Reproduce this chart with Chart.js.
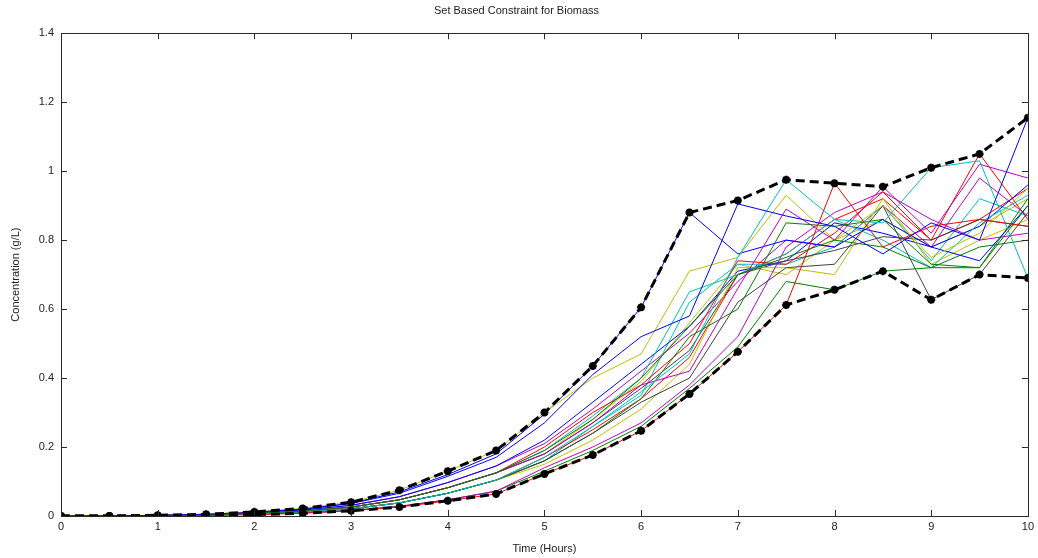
<!DOCTYPE html>
<html>
<head>
<meta charset="utf-8">
<script src="https://cdn.jsdelivr.net/npm/chart.js@4/dist/chart.umd.min.js"></script>
<style>
  html, body { margin:0; padding:0; background:#fff; }
  #wrap { width:1038px; height:558px; }
</style>
</head>
<body>
<div id="wrap"><canvas id="chart" width="1038" height="558"></canvas></div>
<script>
/* ====== データ ====== */
const hours = [0,0.5,1,1.5,2,2.5,3,3.5,4,4.5,5,5.5,6,6.5,7,7.5,8,8.5,9,9.5,10];
const xTicks = [0,1,2,3,4,5,6,7,8,9,10];
const yTicks = [0,0.2,0.4,0.6,0.8,1,1.2,1.4];

// 上限・下限（破線）
const upperBound = [0,0,0.002,0.005,0.012,0.022,0.04,0.075,0.13,0.19,0.30,0.435,0.605,0.88,0.915,0.975,0.965,0.955,1.01,1.05,1.155];
const lowerBound = [0,0,0.001,0.002,0.004,0.008,0.015,0.026,0.044,0.064,0.122,0.177,0.247,0.354,0.476,0.612,0.656,0.71,0.627,0.70,0.69];

// 各ラン
const run01 = [0,0,0.002,0.005,0.011,0.02,0.036,0.066,0.115,0.17,0.27,0.41,0.52,0.58,0.905,0.87,0.84,0.76,0.85,0.80,1.155];
const run02 = [0,0,0.001,0.003,0.008,0.014,0.026,0.047,0.082,0.125,0.19,0.28,0.40,0.55,0.70,0.75,0.80,0.78,0.72,0.72,0.90];
const run03 = [0,0,0.001,0.002,0.004,0.008,0.015,0.026,0.044,0.064,0.122,0.177,0.247,0.354,0.476,0.612,0.965,0.78,0.84,0.86,0.84];
const run04 = [0,0,0.001,0.003,0.006,0.012,0.021,0.038,0.066,0.104,0.17,0.26,0.36,0.47,0.75,0.975,0.86,0.85,1.01,1.03,0.69];
const run05 = [0,0,0.001,0.003,0.008,0.014,0.026,0.047,0.082,0.125,0.18,0.27,0.38,0.42,0.66,0.89,0.80,0.955,0.82,1.02,0.98];
const run06 = [0,0,0.002,0.005,0.012,0.022,0.04,0.075,0.13,0.19,0.30,0.40,0.47,0.71,0.75,0.93,0.80,0.90,0.75,0.82,0.95];
const run07 = [0,0,0.001,0.003,0.006,0.012,0.021,0.038,0.066,0.104,0.16,0.24,0.33,0.40,0.62,0.72,0.73,0.90,0.627,0.70,0.88];
const run08 = [0,0,0.002,0.005,0.011,0.02,0.037,0.07,0.12,0.18,0.295,0.435,0.605,0.88,0.76,0.80,0.78,0.86,0.78,0.74,0.90];
const run09 = [0,0,0.001,0.003,0.006,0.012,0.021,0.038,0.066,0.104,0.16,0.24,0.34,0.52,0.60,0.85,0.84,0.86,0.73,0.72,0.92];
const run10 = [0,0,0.001,0.003,0.008,0.014,0.026,0.047,0.082,0.125,0.20,0.30,0.38,0.50,0.74,0.73,0.82,0.94,0.80,1.05,0.86];
const run11 = [0,0,0.001,0.003,0.008,0.014,0.026,0.047,0.082,0.125,0.19,0.29,0.40,0.65,0.70,0.76,0.86,0.80,0.72,0.85,0.93];
const run12 = [0,0,0.001,0.002,0.005,0.009,0.016,0.028,0.047,0.072,0.14,0.20,0.27,0.38,0.52,0.78,0.88,0.94,0.86,0.80,0.82];
const run13 = [0,0,0.001,0.003,0.006,0.012,0.021,0.038,0.066,0.104,0.15,0.22,0.31,0.44,0.72,0.72,0.70,0.92,0.73,0.80,0.86];
const run14 = [0,0,0.001,0.003,0.008,0.014,0.026,0.047,0.082,0.125,0.18,0.27,0.37,0.48,0.70,0.74,0.77,0.81,0.80,0.86,0.84];
const run15 = [0,0,0.002,0.004,0.009,0.017,0.031,0.056,0.097,0.145,0.22,0.33,0.44,0.55,0.71,0.74,0.85,0.82,0.78,0.84,0.96];
const run16 = [0,0,0.001,0.002,0.005,0.009,0.016,0.028,0.047,0.072,0.13,0.19,0.26,0.37,0.49,0.68,0.656,0.71,0.72,0.78,0.80];
const run17 = [0,0,0.001,0.003,0.006,0.012,0.021,0.038,0.066,0.104,0.17,0.25,0.34,0.46,0.70,0.76,0.86,0.92,0.80,0.86,0.95];
const run18 = [0,0,0.001,0.003,0.006,0.012,0.021,0.038,0.066,0.104,0.16,0.26,0.35,0.62,0.73,0.73,0.78,0.90,0.74,0.92,0.87];
const run19 = [0,0,0.002,0.004,0.009,0.017,0.031,0.056,0.097,0.145,0.21,0.31,0.42,0.53,0.68,0.80,0.78,0.90,0.78,0.98,0.87];
const run20 = [0,0,0.001,0.003,0.008,0.014,0.026,0.047,0.082,0.125,0.18,0.28,0.39,0.56,0.73,0.70,0.80,0.86,0.78,0.84,0.92];
const runs = [run01,run02,run03,run04,run05,run06,run07,run08,run09,run10,
              run11,run12,run13,run14,run15,run16,run17,run18,run19,run20];

// MATLAB 既定の色順
const colorOrder = ['#0000ff','#008000','#ff0000','#00bfbf','#bf00bf','#bfbf00','#404040'];

/* ====== 枠と内向きの目盛り ====== */
const frame = {
  id:'frame',
  afterDatasetsDraw(chart){
    const {ctx, chartArea:a, scales:{x, y}} = chart;
    const len = 6;
    ctx.save();
    ctx.strokeStyle = '#2a2a2a'; ctx.lineWidth = 1;
    ctx.strokeRect(Math.round(a.left)+0.5, Math.round(a.top)+0.5, Math.round(a.right-a.left), Math.round(a.bottom-a.top));
    ctx.beginPath();
    xTicks.forEach(v=>{
      const px = Math.round(x.getPixelForValue(v))+0.5;
      ctx.moveTo(px, a.bottom); ctx.lineTo(px, a.bottom-len);
      ctx.moveTo(px, a.top);    ctx.lineTo(px, a.top+len);
    });
    yTicks.forEach(v=>{
      const py = Math.round(y.getPixelForValue(v))+0.5;
      ctx.moveTo(a.left, py);  ctx.lineTo(a.left+len, py);
      ctx.moveTo(a.right, py); ctx.lineTo(a.right-len, py);
    });
    ctx.stroke();
    ctx.restore();
  }
};

const toPts = arr => hours.map((t,i)=>({x:t, y:arr[i]}));
const font = { family:"'Liberation Sans', Arial, sans-serif", size:11, weight:'normal' };

const boundStyle = {
  borderColor:'#000', backgroundColor:'#000', borderWidth:3, borderDash:[9,5],
  pointStyle:'star', pointRadius:4, pointBorderWidth:2.5, pointBorderColor:'#000', pointBackgroundColor:'#000'
};

const datasets = [
  { label:'上限', data:toPts(upperBound), ...boundStyle },
  { label:'下限', data:toPts(lowerBound), ...boundStyle },
  ...runs.map((r,i)=>({
    label:`run${i+1}`, data:toPts(r),
    borderColor:colorOrder[i % colorOrder.length], borderWidth:1, pointRadius:0
  }))
];

new Chart(document.getElementById('chart').getContext('2d'), {
  type:'line',
  data:{ datasets },
  options:{
    responsive:false, animation:false,
    layout:{ padding:{ left:0, right:5, top:0, bottom:0 } },
    elements:{ line:{ tension:0 } },
    scales:{
      x:{
        type:'linear', min:0, max:10,
        afterFit:s=>{ s.height = 42; },
        afterBuildTicks:s=>{ s.ticks = xTicks.map(v=>({value:v})); },
        grid:{ display:false, drawTicks:false },
        border:{ display:false },
        ticks:{ padding:4, color:'#222', font, maxRotation:0 },
        title:{ display:true, text:'Time (Hours)', color:'#222', font, padding:{ top:0, bottom:2 } }
      },
      y:{
        min:0, max:1.4,
        afterFit:s=>{ s.width = 61; },
        afterBuildTicks:s=>{ s.ticks = yTicks.map(v=>({value:v})); },
        grid:{ display:false, drawTicks:false },
        border:{ display:false },
        ticks:{ padding:7, color:'#222', font, callback:v=>String(Math.round(v*10)/10) },
        title:{ display:true, text:'Concentration (g/L)', color:'#222', font, padding:{ top:9, bottom:0 } }
      }
    },
    plugins:{
      legend:{ display:false },
      tooltip:{ enabled:false },
      title:{ display:true, text:'Set Based Constraint for Biomass', color:'#222', font, padding:{ top:4, bottom:16 } }
    }
  },
  plugins:[frame]
});
</script>
</body>
</html>
